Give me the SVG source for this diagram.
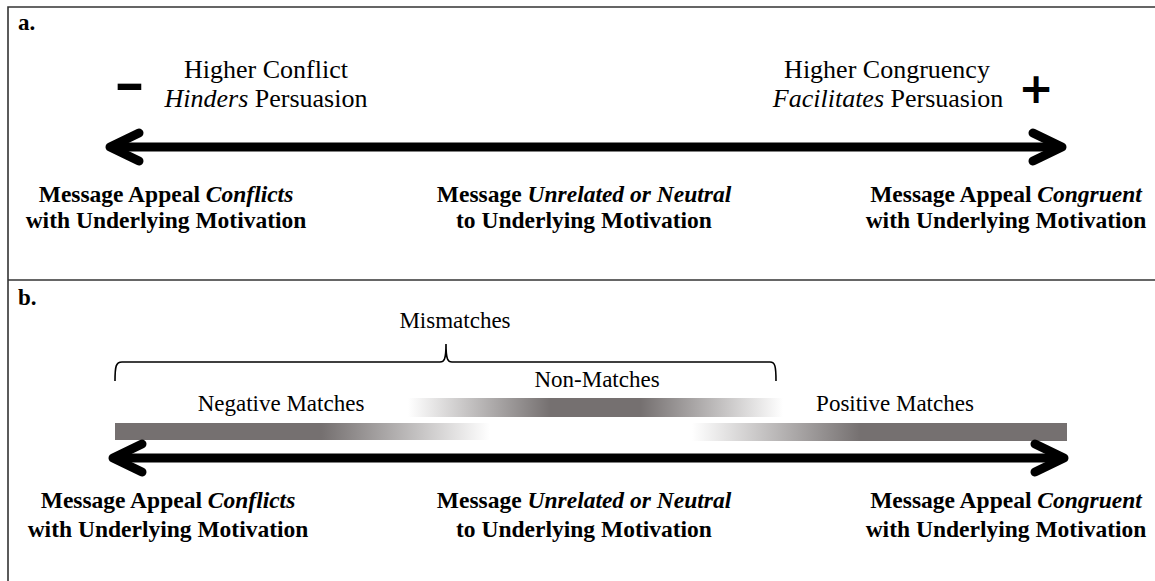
<svg xmlns="http://www.w3.org/2000/svg" width="1155" height="581" viewBox="0 0 1155 581">
<style>
.frame{fill:none;stroke:#333;stroke-width:1.6}
.reg{font-family:"Liberation Serif","Times New Roman",serif;font-size:26px;fill:#000;text-anchor:middle}
.lbl{font-family:"Liberation Serif","Times New Roman",serif;font-size:23px;fill:#000;text-anchor:middle}
.bold{font-family:"Liberation Serif","Times New Roman",serif;font-size:23.5px;font-weight:bold;fill:#000;text-anchor:middle}
.tag{font-family:"Liberation Serif","Times New Roman",serif;font-size:23px;font-weight:bold;fill:#000}
.sign{font-family:"DejaVu Sans",sans-serif;fill:#000;text-anchor:middle;font-weight:bold}
.shaft{stroke:#000;stroke-width:9;fill:none}
.head{stroke:#000;stroke-width:9;fill:none;stroke-linecap:round;stroke-linejoin:round}
.brace{stroke:#000;stroke-width:1.6;fill:none}
</style>
<defs>
<linearGradient id="gNeg" x1="0" y1="0" x2="1" y2="0">
<stop offset="0" stop-color="#757070"/>
<stop offset="0.55" stop-color="#757070"/>
<stop offset="1" stop-color="#ffffff"/>
</linearGradient>
<linearGradient id="gPos" x1="0" y1="0" x2="1" y2="0">
<stop offset="0" stop-color="#ffffff"/>
<stop offset="0.45" stop-color="#757070"/>
<stop offset="1" stop-color="#757070"/>
</linearGradient>
<linearGradient id="gNon" x1="0" y1="0" x2="1" y2="0">
<stop offset="0" stop-color="#ffffff"/>
<stop offset="0.38" stop-color="#757070"/>
<stop offset="0.62" stop-color="#757070"/>
<stop offset="1" stop-color="#ffffff"/>
</linearGradient>
</defs>
<rect width="1155" height="581" fill="#fff"/>
<g id="frame">
<path class="frame" d="M8,581 V7 H1155"/>
<line class="frame" x1="8" y1="280" x2="1155" y2="280"/>
</g>
<g id="panel-a">
<text class="tag" x="18" y="30">a.</text>
<g id="neg-end-a">
<text class="sign" x="129.5" y="100" font-size="44" transform="translate(129.5,0) scale(1.75,1) translate(-129.5,0)">-</text>
<text class="reg" x="266" y="78">Higher Conflict</text>
<text class="reg" x="266" y="107"><tspan font-style="italic">Hinders</tspan> Persuasion</text>
</g>
<g id="pos-end-a">
<text class="reg" x="887" y="78">Higher Congruency</text>
<text class="reg" x="888" y="107"><tspan font-style="italic">Facilitates</tspan> Persuasion</text>
<text class="sign" x="1036" y="103" font-size="42">+</text>
</g>
<g id="labels-a">
<text class="bold" x="166" y="202">Message Appeal <tspan font-style="italic">Conflicts</tspan></text>
<text class="bold" x="166" y="228">with Underlying Motivation</text>
<text class="bold" x="584" y="202">Message <tspan font-style="italic">Unrelated or Neutral</tspan></text>
<text class="bold" x="584" y="228">to Underlying Motivation</text>
<text class="bold" x="1006" y="202">Message Appeal <tspan font-style="italic">Congruent</tspan></text>
<text class="bold" x="1006" y="228">with Underlying Motivation</text>
</g>
</g>
<g id="panel-b">
<text class="tag" x="18" y="305">b.</text>
<g id="mismatches">
<text class="lbl" x="455" y="328">Mismatches</text>
<path class="brace" d="M115,381 C115,366 116,362 122,362 H440 C444,362 446,360 446,344 C446,360 448,362 452,362 H770 C775,362 776,366 776,381"/>
</g>
<g id="non-matches">
<text class="lbl" x="597" y="387">Non-Matches</text>
<rect x="408" y="398" width="375" height="19" fill="url(#gNon)"/>
</g>
<g id="negative-matches">
<text class="lbl" x="281" y="411">Negative Matches</text>
<rect x="115" y="423" width="375" height="17" fill="url(#gNeg)"/>
</g>
<g id="positive-matches">
<text class="lbl" x="895" y="411">Positive Matches</text>
<rect x="692" y="423" width="375" height="18" fill="url(#gPos)"/>
</g>
<g id="labels-b">
<text class="bold" x="168" y="508">Message Appeal <tspan font-style="italic">Conflicts</tspan></text>
<text class="bold" x="168" y="537">with Underlying Motivation</text>
<text class="bold" x="584" y="508">Message <tspan font-style="italic">Unrelated or Neutral</tspan></text>
<text class="bold" x="584" y="537">to Underlying Motivation</text>
<text class="bold" x="1006" y="508">Message Appeal <tspan font-style="italic">Congruent</tspan></text>
<text class="bold" x="1006" y="537">with Underlying Motivation</text>
</g>
</g>
<g id="connectors">
<line class="shaft" x1="114" y1="147" x2="1058" y2="147"/>
<polyline class="head" points="139,133 110,147 139,161"/>
<polyline class="head" points="1033,133 1062,147 1033,161"/>
<line class="shaft" x1="117" y1="458" x2="1060" y2="458"/>
<polyline class="head" points="142,444 113,458 142,472"/>
<polyline class="head" points="1035,444 1064,458 1035,472"/>
</g>
</svg>
